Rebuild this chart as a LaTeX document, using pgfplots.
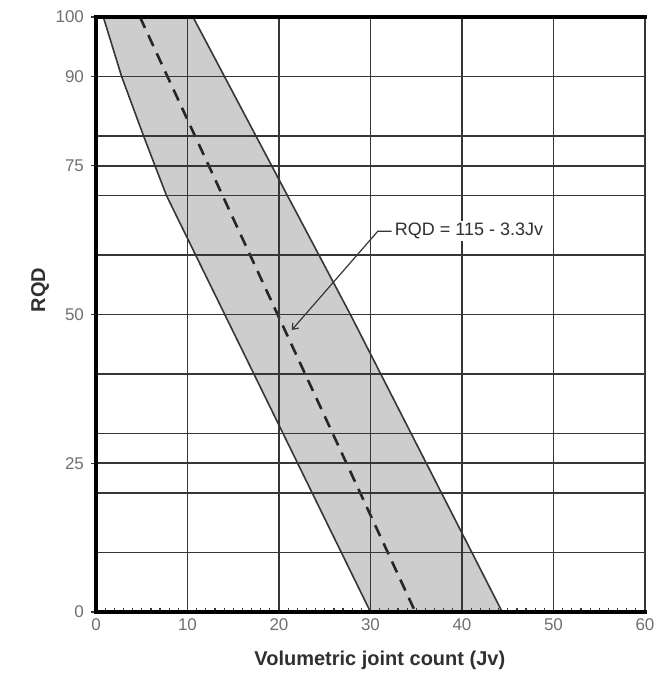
\documentclass[border=0pt]{standalone}
\usepackage{fontspec}
\setmainfont{Liberation Sans}
\usepackage{pgfplots}
\pgfplotsset{compat=1.18}
\usetikzlibrary{arrows.meta}
\definecolor{gridc}{HTML}{363636}
\definecolor{bandc}{HTML}{CDCDCD}
\definecolor{tickc}{HTML}{707070}
\definecolor{labc}{HTML}{303030}

\begin{document}
\begin{tikzpicture}
\begin{axis}[
  scale only axis, width=274.5pt, height=297.5pt,
  xmin=0, xmax=60, ymin=0, ymax=100,
  xtick={0,10,...,60}, ytick={0,25,50,75,90,100},
  minor x tick num=9,
  extra y ticks={10,20,30,40,60,70,80},
  extra y tick labels={},
  extra y tick style={grid=major, major tick length=0pt},
  xmajorgrids, ymajorgrids,
  grid style={gridc, line width=0.85pt},
  axis line style={draw=none},
  xtick pos=bottom, ytick pos=left,
  xtick align=inside, ytick align=outside,
  major tick length=2.5pt, minor tick length=1.8pt,
  tick style={gridc, line width=0.6pt},
  tick label style={font=\fontsize{8.5}{10}\selectfont, text=tickc},
  /pgf/number format/assume math mode=true,
  xlabel={Volumetric joint count (Jv)},
  ylabel={RQD},
  label style={font=\fontsize{10}{12}\selectfont\bfseries, text=labc},
  xlabel style={at={(rel axis cs:0.517,-0.081)}, anchor=center},
  ylabel style={at={(rel axis cs:-0.102,0.541)}, anchor=center},
  axis on top,
  clip=false,
]
% shaded band
\addplot[fill=bandc, draw=none] coordinates
  {(0.8,100) (2.8,90) (5.2,80) (7.7,70) (30,0) (44.4,0) (27.8,50) (10.6,100)} -- cycle;
\addplot[gridc, line width=0.8pt] coordinates
  {(0.8,100) (2.8,90) (5.2,80) (7.7,70) (30,0)};
\addplot[gridc, line width=0.8pt] coordinates {(10.6,100) (27.8,50) (44.4,0)};
% mean line
\addplot[black!85, line width=1.3pt, dash pattern=on 6pt off 4pt] coordinates
  {(4.8,100) (34.9,0)};
% leader to the label
\addplot[gridc, line width=0.6pt, -{Straight Barb[length=2.5pt,width=4pt]}] coordinates
  {(32.3,64.0) (30.8,64.0) (21.4,47.4)};
\coordinate (lab) at (axis cs:32.4,64.0);
\coordinate (sw) at (rel axis cs:0,0);
\coordinate (se) at (rel axis cs:1,0);
\coordinate (nw) at (rel axis cs:0,1);
\coordinate (ne) at (rel axis cs:1,1);
\end{axis}
\node[anchor=west, fill=white, inner sep=1pt, text=labc,
      font=\fontsize{9}{11}\selectfont] at (lab) {RQD = 115 - 3.3Jv};
\draw[black, line width=2pt, line cap=rect] (ne) -- (nw) -- (sw) -- (se);
\pgfresetboundingbox
\useasboundingbox (-48pt,-33pt) rectangle (282.5pt,306pt);
\end{tikzpicture}
\end{document}
